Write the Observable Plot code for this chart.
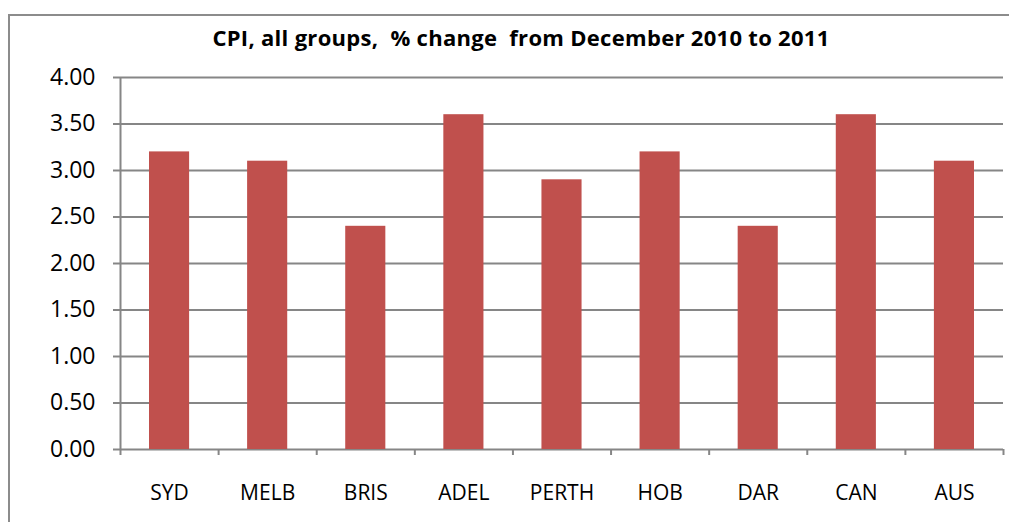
<!DOCTYPE html>
<html>
<head>
<meta charset="utf-8">
<script src="https://cdn.jsdelivr.net/npm/d3@7"></script>
<script src="https://cdn.jsdelivr.net/npm/@observablehq/plot@0.6"></script>
<style>
  html, body { margin: 0; padding: 0; background: #fff; overflow: hidden; }
  #wrap { position: relative; width: 1009px; height: 522px; overflow: hidden; }
  #frame { position: absolute; left: 8px; top: 14px; width: 1020px; height: 530px; border: 2px solid #8c8c8c; box-sizing: border-box; }
  #title { position: absolute; left: 0; width: 1042px; top: 22px; text-align: center; font-family: "Open Sans", sans-serif; font-weight: bold; font-size: 22px; letter-spacing: 0.3px; white-space: pre; color: #000; }
  #chart { position: absolute; left: 0; top: 0; }
</style>
</head>
<body>
<div id="wrap">
  <div id="frame"></div>
  <div id="chart"></div>
  <div id="title">CPI, all groups,  % change  from December 2010 to 2011</div>
</div>
<script>
const cities = ["SYD", "MELB", "BRIS", "ADEL", "PERTH", "HOB", "DAR", "CAN", "AUS"];
const values = [3.2, 3.1, 2.4, 3.6, 2.9, 3.2, 2.4, 3.6, 3.1];
const yTicks = [0, 0.5, 1, 1.5, 2, 2.5, 3, 3.5, 4];

const data = cities.map((c, i) => ({city: c, value: values[i], idx: i}));
const boundaries = d3.range(cities.length + 1);

const chart = Plot.plot({
  width: 1009,
  height: 522,
  marginLeft: 120,
  marginRight: 6,
  marginTop: 77,
  marginBottom: 73,
  style: {fontFamily: "Open Sans, sans-serif", background: "transparent"},
  x: {type: "linear", domain: [0, cities.length], axis: null},
  y: {domain: [0, 4], axis: null},
  marks: [
    Plot.ruleY(yTicks, {stroke: "#868686", strokeWidth: 2}),
    Plot.rectY(data, {x1: d => d.idx, x2: d => d.idx + 1, y: "value", insetLeft: 29, insetRight: 29, fill: "#C0504D"}),
    Plot.ruleX([0], {stroke: "#868686", strokeWidth: 2}),
    Plot.axisY({ticks: yTicks, tickFormat: d => d.toFixed(2), tickSize: 7, tickPadding: 18, stroke: "#868686", strokeWidth: 2, strokeOpacity: 1, fontSize: 23, fill: "#000", label: null}),
    Plot.axisX({ticks: boundaries, tickFormat: () => "", tickSize: 6, stroke: "#868686", strokeWidth: 2, strokeOpacity: 1, label: null}),
    Plot.text(data, {x: d => d.idx + 0.5, text: "city", frameAnchor: "bottom", dy: 44, lineAnchor: "middle", fontSize: 21, fill: "#000"})
  ]
});
document.getElementById("chart").appendChild(chart);
</script>
</body>
</html>
